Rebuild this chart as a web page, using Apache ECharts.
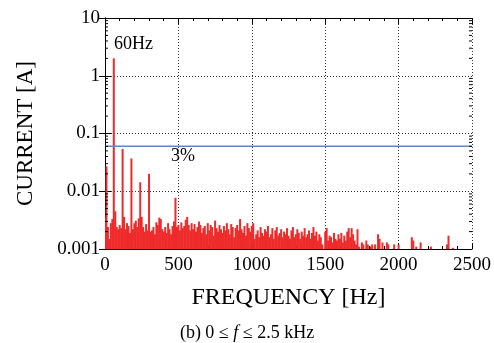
<!DOCTYPE html>
<html>
<head>
<meta charset="utf-8">
<script src="https://cdn.jsdelivr.net/npm/echarts@6/dist/echarts.min.js"></script>
<style>
  html, body { margin: 0; padding: 0; background: #fff; }
  #chart { width: 494px; height: 343px; }
</style>
</head>
<body>
<div id="chart"></div>
<script>
// spectrum bins every 10 Hz, 0 .. 2490 Hz, current in mA (values < 1 mA fall below the axis)
const binStepHz = 10;
const currentMilliAmp = [
  3.5, 27, 2.4, 1.5, 2.8, 3.3, 2000, 4.5, 2.4, 2.2,
  2.6, 2.3, 54, 3.6, 2.2, 2.8, 2.5, 1.9, 37, 2.2,
  2.8, 3.1, 2.4, 3.4, 14.3, 3.6, 2.4, 2.0, 2.7, 2.1,
  20, 2.0, 2.1, 2.4, 1.8, 2.9, 2.6, 3.5, 3.3, 2.2,
  2.0, 2.4, 1.9, 2.8, 2.2, 1.8, 2.5, 3.0, 7.7, 2.4,
  2.6, 2.1, 2.9, 2.3, 2.5, 3.2, 3.6, 2.6, 2.1, 2.8,
  2.2, 2.7, 2.0, 2.4, 3.0, 2.6, 1.9, 2.3, 2.5, 1.8,
  2.8, 2.1, 2.6, 2.4, 1.7, 3.1, 2.3, 2.0, 2.6, 2.2,
  1.9, 2.5, 2.1, 2.8, 2.2, 1.8, 2.7, 2.4, 1.6, 2.3,
  2.6, 2.1, 3.3, 2.2, 1.9, 2.5, 1.7, 2.8, 2.3, 2.0,
  2.5, 2.8, 1.5, 1.8, 2.1, 1.6, 2.4, 1.9, 1.7, 2.2,
  2.0, 2.5, 1.6, 1.8, 2.3, 1.5, 2.1, 2.4, 1.7, 1.9,
  2.2, 1.6, 2.0, 1.8, 2.3, 1.7, 1.5, 2.1, 2.4, 1.6,
  1.8, 2.2, 1.9, 1.5, 2.0, 1.7, 2.3, 1.6, 1.8, 2.1,
  1.5, 1.9, 2.4, 1.7, 2.0, 1.4, 1.8, 1.6, 1.2, 0.9,
  2.0, 2.3, 1.4, 1.7, 1.6, 1.3, 1.9, 1.5, 1.4, 1.8,
  1.5, 1.9, 1.3, 1.7, 1.4, 2.0, 2.3, 1.6, 2.3, 1.8,
  1.4, 1.2, 2.2, 1.1, 0.9, 1.3, 1.2, 0.9, 1.4, 1.2,
  0.9, 1.1, 1.2, 0.9, 1.2, 0.9, 1.8, 1.5, 0.9, 1.3,
  0.9, 0.9, 1.3, 1.2, 0.9, 1.0, 0.9, 1.2, 0.9, 0.9,
  1.2, 0.9, 0.9, 0.9, 0.9, 0.9, 0.9, 0.9, 0.9, 1.6,
  1.4, 0.9, 1.1, 0.9, 0.9, 1.3, 0.9, 0.9, 0.9, 0.9,
  0.9, 0.9, 1.1, 0.9, 0.9, 0.9, 0.9, 0.9, 0.9, 0.9,
  0.9, 0.9, 0.9, 1.2, 1.7, 0.9, 0.9, 1.05, 0.9, 0.9,
  0.9, 0.9, 0.9, 0.9, 0.9, 0.9, 0.9, 0.9, 0.9, 0.9
];
const limitCurrent = 0.06;   // 3 % of the 60 Hz component
const xTicks = [0, 500, 1000, 1500, 2000, 2500];
const yMin = 0.001, yMax = 10;

const spectrum = currentMilliAmp.map((ma, i) => [i * binStepHz, ma / 1000]);

const minorTickValues = [];
for (let d = yMin; d < yMax * 0.99; d *= 10) {
  for (let m = 2; m <= 9; m++) minorTickValues.push(d * m);
}

const font = 'Liberation Serif';
const red = '#ee2a2a';

const chart = echarts.init(document.getElementById('chart'));

const xCommon = {
  type: 'value',
  min: xTicks[0],
  max: xTicks[xTicks.length - 1],
  interval: 500,
  axisLine: { lineStyle: { color: '#000', width: 1 } },
  axisTick: { inside: true, length: 6, lineStyle: { color: '#000' } },
  minorTick: { show: true, splitNumber: 5, length: 3, lineStyle: { color: '#000' } }
};
const yCommon = {
  type: 'log',
  logBase: 10,
  min: yMin,
  max: yMax,
  axisLine: { show: true, lineStyle: { color: '#000', width: 1 } },
  axisTick: { show: true, inside: true, length: 6, lineStyle: { color: '#000' } }
};

chart.setOption({
  animation: false,
  grid: { left: 105, right: 21, top: 18, bottom: 94 },
  xAxis: [
    Object.assign({}, xCommon, {
      position: 'bottom',
      name: 'FREQUENCY [Hz]',
      nameLocation: 'middle',
      nameGap: 37,
      nameTextStyle: { fontFamily: font, fontSize: 24, color: '#000' },
      axisLabel: { fontFamily: font, fontSize: 19, color: '#000', margin: 7, formatter: v => String(v) },
      splitLine: { show: true, lineStyle: { color: '#333', type: [1, 2], width: 1 } }
    }),
    Object.assign({}, xCommon, {
      position: 'top',
      axisLabel: { show: false },
      splitLine: { show: false }
    })
  ],
  yAxis: [
    Object.assign({}, yCommon, {
      position: 'left',
      name: 'CURRENT [A]',
      nameLocation: 'middle',
      nameGap: 68,
      nameTextStyle: { fontFamily: font, fontSize: 23, color: '#000' },
      axisLabel: {
        fontFamily: font, fontSize: 19, color: '#000', margin: 5,
        formatter: v => String(Number(v.toPrecision(1)))
      },
      splitLine: { show: true, lineStyle: { color: '#333', type: [1, 2], width: 1 } }
    }),
    Object.assign({}, yCommon, {
      position: 'right',
      axisLabel: { show: false },
      splitLine: { show: false }
    })
  ],
  series: [
    {
      type: 'custom',
      clip: true,
      data: spectrum,
      renderItem: (params, api) => {
        const f = api.value(0), v = api.value(1);
        if (v <= yMin) return null;
        const top = api.coord([f, v]);
        const base = api.coord([f, yMin]);
        return {
          type: 'rect',
          shape: { x: top[0] - 1, y: top[1], width: 2, height: base[1] - top[1] },
          style: { fill: red }
        };
      },
      z: 2
    },
    {
      type: 'line',
      data: [[xTicks[0], limitCurrent], [xTicks[xTicks.length - 1], limitCurrent]],
      symbol: 'none',
      lineStyle: { color: '#5f86c4', width: 1.5 },
      z: 3
    },
    {
      // log minor ticks on left and right edges
      type: 'custom',
      data: minorTickValues.map(v => [0, v]),
      renderItem: (params, api) => {
        const v = api.value(1);
        const l = api.coord([xTicks[0], v]);
        const r = api.coord([xTicks[xTicks.length - 1], v]);
        return {
          type: 'group',
          children: [
            { type: 'line', shape: { x1: l[0], y1: l[1], x2: l[0] + 3, y2: l[1] }, style: { stroke: '#000', lineWidth: 1 } },
            { type: 'line', shape: { x1: r[0] - 3, y1: r[1], x2: r[0], y2: r[1] }, style: { stroke: '#000', lineWidth: 1 } }
          ]
        };
      },
      z: 5
    }
  ],
  graphic: [
    { type: 'text', left: 114, top: 35, style: { text: '60Hz', font: '18px "Liberation Serif"', fill: '#000' } },
    { type: 'text', left: 171, top: 147, style: { text: '3%', font: '18px "Liberation Serif"', fill: '#000' } },
    {
      type: 'text', left: 'center', top: 324,
      style: {
        text: '{n|(b) 0 ≤ }{i|f}{n| ≤ 2.5 kHz}',
        rich: {
          n: { fontFamily: font, fontSize: 18, fill: '#000' },
          i: { fontFamily: font, fontSize: 18, fontStyle: 'italic', fill: '#000' }
        }
      }
    }
  ]
});
</script>
</body>
</html>
